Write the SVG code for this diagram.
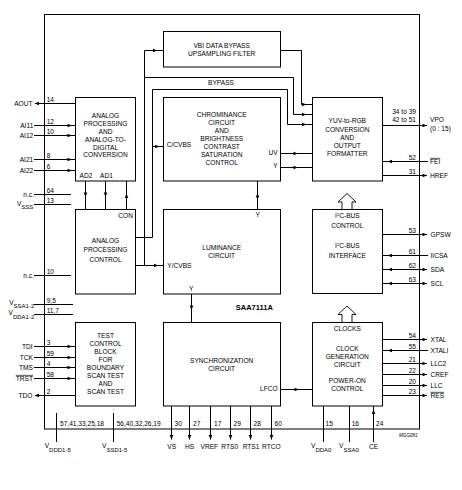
<svg xmlns="http://www.w3.org/2000/svg" xmlns:xlink="http://www.w3.org/1999/xlink" width="462" height="490" viewBox="0 0 462 490">
<style>
.b{fill:#fff;stroke:#000;stroke-width:1}
.w{fill:none;stroke:#000;stroke-width:1}
text{font-family:"Liberation Sans",Arial,sans-serif;font-size:6.6px;fill:#000}
.c{text-anchor:middle}
.e{text-anchor:end}
.s{font-size:6px}
.o{text-decoration:overline}
.bo{font-weight:bold;font-size:7.5px}
.m{font-size:4.6px;font-style:italic}
.blk{fill:#fff;stroke:#000;stroke-width:0.9}
</style>
<defs>
<path id="ah" d="M0,0 L-4.5,-1.8 L-4.5,1.8 Z" fill="#000"/>
</defs>
<rect width="462" height="490" fill="#fff"/>
<g id="chip">
<rect x="44.5" y="14.5" width="375" height="414.5" class="w"/>
<text x="254.3" y="310.3" class="c bo">SAA7111A</text>
<text x="399" y="436.5" class="m">MGG081</text>
</g>
<g id="connectors" class="w">
<path d="M35,103.5H75.5M34,125.5H75.5M34,135.5H75.5M34,159.5H75.5M34,170.5H75.5M34,194.5H71M34,204.5H71M34,275.5H71M34,304.5H73M34,314.5H73M34,346.5H75.5M34,357.5H75.5M34,367.5H75.5M34,378.5H75.5M35,395.5H75.5"/>
<path d="M85.5,181V209.5M105.5,181V209.5M126.5,209.5V181"/>
<path d="M135.5,237.5H152.5V89.5H287.5V124.5H312.5M152.5,146.5H163.5"/>
<path d="M135.5,265.5H163.5M144.5,265.5V50.5H163.5M144.5,77.5H293.5V114.5H312.5"/>
<path d="M280.5,50.5H301.5V104.5H312.5"/>
<path d="M280.5,153.5H312.5M280.5,167.5H312.5M257.5,209.5V181M191.5,294V322.5M280.5,389.5H312.5"/>
<path d="M171.5,406V439.5M189.5,406V439.5M210.5,406V439.5M230.5,406V439.5M250.5,406V439.5M271.5,406V439.5"/>
<path d="M56.5,413V442M113.5,413V442M323.5,406V442M349.5,406V442M373.5,406V442"/>
<path d="M382.5,125.5H427M382.5,161.5H428M382.5,175.5H427M382.5,234.5H427M382.5,255.5H428M382.5,269.5H427M382.5,283.5H427M382.5,339.5H427M382.5,350.5H428M382.5,363.5H427M382.5,374.5H427M382.5,385.5H427M382.5,395.5H427"/>
<g stroke="none">
<use xlink:href="#ah" transform="translate(34.5,103.5) rotate(180)"/>
<use xlink:href="#ah" transform="translate(72,125.5)"/>
<use xlink:href="#ah" transform="translate(72,135.5)"/>
<use xlink:href="#ah" transform="translate(72,159.5)"/>
<use xlink:href="#ah" transform="translate(72,170.5)"/>
<use xlink:href="#ah" transform="translate(72,346.5)"/>
<use xlink:href="#ah" transform="translate(72,357.5)"/>
<use xlink:href="#ah" transform="translate(72,367.5)"/>
<use xlink:href="#ah" transform="translate(72,378.5)"/>
<use xlink:href="#ah" transform="translate(34.5,395.5) rotate(180)"/>
<use xlink:href="#ah" transform="translate(85.5,197) rotate(90)"/>
<use xlink:href="#ah" transform="translate(105.5,197) rotate(90)"/>
<use xlink:href="#ah" transform="translate(126.5,193.5) rotate(-90)"/>
<use xlink:href="#ah" transform="translate(157.5,50.5)"/>
<use xlink:href="#ah" transform="translate(159.5,146.5)"/>
<use xlink:href="#ah" transform="translate(158.5,265.5)"/>
<use xlink:href="#ah" transform="translate(306.5,104.5)"/>
<use xlink:href="#ah" transform="translate(306.5,114.5)"/>
<use xlink:href="#ah" transform="translate(306.5,124.5)"/>
<use xlink:href="#ah" transform="translate(298,153.5)"/>
<use xlink:href="#ah" transform="translate(298,167.5)"/>
<use xlink:href="#ah" transform="translate(257.5,193) rotate(-90)"/>
<use xlink:href="#ah" transform="translate(191.5,310) rotate(90)"/>
<use xlink:href="#ah" transform="translate(299,389.5)"/>
<use xlink:href="#ah" transform="translate(171.5,439.5) rotate(90)"/>
<use xlink:href="#ah" transform="translate(189.5,439.5) rotate(90)"/>
<use xlink:href="#ah" transform="translate(210.5,439.5) rotate(90)"/>
<use xlink:href="#ah" transform="translate(230.5,439.5) rotate(90)"/>
<use xlink:href="#ah" transform="translate(250.5,439.5) rotate(90)"/>
<use xlink:href="#ah" transform="translate(271.5,439.5) rotate(90)"/>
<use xlink:href="#ah" transform="translate(373.5,409.5) rotate(-90)"/>
<use xlink:href="#ah" transform="translate(427,125.5)"/>
<use xlink:href="#ah" transform="translate(387.5,161.5) rotate(180)"/>
<use xlink:href="#ah" transform="translate(427,175.5)"/>
<use xlink:href="#ah" transform="translate(427,234.5)"/>
<use xlink:href="#ah" transform="translate(387.5,255.5) rotate(180)"/>
<use xlink:href="#ah" transform="translate(387.5,269.5) rotate(180)"/>
<use xlink:href="#ah" transform="translate(427,269.5)"/>
<use xlink:href="#ah" transform="translate(387.5,283.5) rotate(180)"/>
<use xlink:href="#ah" transform="translate(427,283.5)"/>
<use xlink:href="#ah" transform="translate(427,339.5)"/>
<use xlink:href="#ah" transform="translate(387.5,350.5) rotate(180)"/>
<use xlink:href="#ah" transform="translate(427,363.5)"/>
<use xlink:href="#ah" transform="translate(427,374.5)"/>
<use xlink:href="#ah" transform="translate(427,385.5)"/>
<use xlink:href="#ah" transform="translate(427,395.5)"/>
</g>
<path class="blk" d="M347,193.5L356,202H352V209.5H342V202H338Z"/>
<path class="blk" d="M347,306L356,314.5H352V322.5H342V314.5H338Z"/>
<text x="221" y="84.7" class="c" stroke="none">BYPASS</text>
</g>
<g id="pins-left">
<text x="32.5" y="105.9" class="e">AOUT</text>
<text x="33.3" y="127.9" class="e">AI11</text>
<text x="33.3" y="137.9" class="e">AI12</text>
<text x="33.3" y="161.9" class="e">AI21</text>
<text x="33.3" y="172.9" class="e">AI22</text>
<text x="34" y="196.9" class="e">n.c.</text>
<text x="33.3" y="205.7" class="e">V<tspan dy="3.5" class="s">SSS</tspan></text>
<text x="34" y="277.9" class="e">n.c.</text>
<text x="34.3" y="304.7" class="e">V<tspan dy="3.5" class="s">SSA1-2</tspan></text>
<text x="34.3" y="315.2" class="e">V<tspan dy="3.5" class="s">DDA1-2</tspan></text>
<text x="32.7" y="348.9" class="e">TDI</text>
<text x="33" y="359.9" class="e">TCK</text>
<text x="33" y="369.9" class="e">TMS</text>
<text x="33" y="380.9" class="e o">TRST</text>
<text x="32.3" y="398" class="e">TDO</text>
<text x="46.7" y="101.5">14</text>
<text x="46.7" y="123.5">12</text>
<text x="46.7" y="133.5">10</text>
<text x="46.7" y="157.5">8</text>
<text x="46.7" y="168.5">6</text>
<text x="46.7" y="192.5">64</text>
<text x="46.7" y="202.5">13</text>
<text x="46.7" y="273.5">10</text>
<text x="46.7" y="302.5">9,5</text>
<text x="46.7" y="312.5">11,7</text>
<text x="46.7" y="344.5">3</text>
<text x="46.7" y="355.5">59</text>
<text x="46.7" y="365.5">4</text>
<text x="46.7" y="376.5">58</text>
<text x="46.7" y="393.5">2</text>
</g>
<g id="pins-bottom">
<text x="60" y="426.1">57,41,33,25,18</text>
<text x="116.7" y="426.1">56,40,32,26,19</text>
<text x="44.7" y="448.4">V<tspan dy="3.3" class="s">DDD1-5</tspan></text>
<text x="102" y="448.4">V<tspan dy="3.3" class="s">SSD1-5</tspan></text>
<text x="174.5" y="426.1">30</text>
<text x="193" y="426.1">27</text>
<text x="214" y="426.1">17</text>
<text x="233.5" y="426.1">29</text>
<text x="253.5" y="426.1">28</text>
<text x="274.5" y="426.1">60</text>
<text x="171.7" y="449" class="c">VS</text>
<text x="189.7" y="449" class="c">HS</text>
<text x="209.3" y="449" class="c">VREF</text>
<text x="229.7" y="449" class="c">RTS0</text>
<text x="251" y="449" class="c">RTS1</text>
<text x="271.3" y="449" class="c">RTCO</text>
<text x="325.5" y="426.1">15</text>
<text x="351.7" y="426.1">16</text>
<text x="376" y="426.1">24</text>
<text x="311" y="448.4">V<tspan dy="3.3" class="s">DDA0</tspan></text>
<text x="339" y="448.4">V<tspan dy="3.3" class="s">SSA0</tspan></text>
<text x="373.5" y="449" class="c">CE</text>
</g>
<g id="pins-right">
<text x="416" y="114.4" class="e">34 to 39</text>
<text x="416" y="122.4" class="e">42 to 51</text>
<text x="416" y="159.5" class="e">52</text>
<text x="416" y="173.5" class="e">31</text>
<text x="416" y="232.5" class="e">53</text>
<text x="416" y="253.5" class="e">61</text>
<text x="416" y="267.5" class="e">62</text>
<text x="416" y="281.5" class="e">63</text>
<text x="416" y="337.5" class="e">54</text>
<text x="416" y="348.5" class="e">55</text>
<text x="416" y="361.5" class="e">21</text>
<text x="416" y="372.5" class="e">22</text>
<text x="416" y="383.5" class="e">20</text>
<text x="416" y="393.5" class="e">23</text>
<text x="430" y="122.4">VPO</text>
<text x="430" y="130.7">(0 : 15)</text>
<text x="430" y="163.9" class="o">FEI</text>
<text x="430" y="177.9">HREF</text>
<text x="430.5" y="236.9">GPSW</text>
<text x="430.5" y="257.9">IICSA</text>
<text x="430.5" y="271.9">SDA</text>
<text x="430.5" y="285.9">SCL</text>
<text x="430.5" y="341.9">XTAL</text>
<text x="430.5" y="352.9">XTALI</text>
<text x="430.5" y="365.9">LLC2</text>
<text x="430.5" y="376.9">CREF</text>
<text x="430.5" y="387.9">LLC</text>
<text x="430.5" y="397.9" class="o">RES</text>
</g>
<g id="analog-adc">
<rect x="75.5" y="97.5" width="60" height="83.5" class="b"/>
<text x="105.5" y="117.7" class="c">ANALOG</text>
<text x="105.5" y="125.7" class="c">PROCESSING</text>
<text x="105.5" y="133.7" class="c">AND</text>
<text x="105.5" y="141.7" class="c">ANALOG-TO-</text>
<text x="105.5" y="149.5" class="c">DIGITAL</text>
<text x="105.5" y="157.3" class="c">CONVERSION</text>
<text x="79.5" y="178">AD2</text>
<text x="100" y="178">AD1</text>
</g>
<g id="analog-control">
<rect x="75.5" y="209.5" width="60" height="84.5" class="b"/>
<text x="133" y="218" class="e">CON</text>
<text x="105.5" y="243" class="c">ANALOG</text>
<text x="105.5" y="252.3" class="c">PROCESSING</text>
<text x="105.5" y="262" class="c">CONTROL</text>
</g>
<g id="test-control">
<rect x="75.5" y="322.5" width="60" height="83.5" class="b"/>
<text x="105.5" y="338.1" class="c">TEST</text>
<text x="105.5" y="346.1" class="c">CONTROL</text>
<text x="105.5" y="354.1" class="c">BLOCK</text>
<text x="105.5" y="362.1" class="c">FOR</text>
<text x="105.5" y="370.1" class="c">BOUNDARY</text>
<text x="105.5" y="378.1" class="c">SCAN TEST</text>
<text x="105.5" y="386.1" class="c">AND</text>
<text x="105.5" y="394.1" class="c">SCAN TEST</text>
</g>
<g id="vbi-filter">
<rect x="163.5" y="31.5" width="117" height="35.5" class="b"/>
<text x="221.7" y="48.4" class="c">VBI DATA BYPASS</text>
<text x="221.7" y="56.4" class="c">UPSAMPLING FILTER</text>
</g>
<g id="chrominance">
<rect x="163.5" y="97.5" width="117" height="83.5" class="b"/>
<text x="221.7" y="116.7" class="c">CHROMINANCE</text>
<text x="221.7" y="124.7" class="c">CIRCUIT</text>
<text x="221.7" y="132.9" class="c">AND</text>
<text x="221.7" y="140.9" class="c">BRIGHTNESS</text>
<text x="221.7" y="148.9" class="c">CONTRAST</text>
<text x="221.7" y="156.9" class="c">SATURATION</text>
<text x="221.7" y="164.9" class="c">CONTROL</text>
<text x="166.7" y="147">C/CVBS</text>
<text x="277.7" y="154.7" class="e">UV</text>
<text x="277.7" y="168" class="e">Y</text>
</g>
<g id="luminance">
<rect x="163.5" y="209.5" width="117" height="84.5" class="b"/>
<text x="257.7" y="217" class="c">Y</text>
<text x="221.7" y="250" class="c">LUMINANCE</text>
<text x="221.7" y="258" class="c">CIRCUIT</text>
<text x="167.3" y="268">Y/CVBS</text>
<text x="191.3" y="290.7" class="c">Y</text>
</g>
<g id="synchronization">
<rect x="163.5" y="322.5" width="117" height="83.5" class="b"/>
<text x="221.7" y="363" class="c">SYNCHRONIZATION</text>
<text x="221.7" y="371" class="c">CIRCUIT</text>
<text x="277.7" y="391.4" class="e">LFCO</text>
</g>
<g id="yuv-rgb">
<rect x="312.5" y="97.5" width="70" height="83.5" class="b"/>
<text x="347.3" y="123.4" class="c">YUV-to-RGB</text>
<text x="347.3" y="131.6" class="c">CONVERSION</text>
<text x="347.3" y="139.7" class="c">AND</text>
<text x="347.3" y="147.7" class="c">OUTPUT</text>
<text x="347.3" y="155.9" class="c">FORMATTER</text>
</g>
<g id="i2c-bus">
<rect x="312.5" y="209.5" width="70" height="84" class="b"/>
<text x="347.3" y="218.4" class="c">I<tspan dy="-2.2" font-size="4.4">2</tspan><tspan dy="2.2">C-BUS</tspan></text>
<text x="347.3" y="227.7" class="c">CONTROL</text>
<text x="347.3" y="247.7" class="c">I<tspan dy="-2.2" font-size="4.4">2</tspan><tspan dy="2.2">C-BUS</tspan></text>
<text x="347.3" y="257.7" class="c">INTERFACE</text>
</g>
<g id="clock-generation">
<rect x="312.5" y="322.5" width="70" height="83.5" class="b"/>
<text x="347.3" y="331.4" class="c">CLOCKS</text>
<text x="347.3" y="350.7" class="c">CLOCK</text>
<text x="347.3" y="358.7" class="c">GENERATION</text>
<text x="347.3" y="366.7" class="c">CIRCUIT</text>
<text x="347.3" y="383.1" class="c">POWER-ON</text>
<text x="347.3" y="391.1" class="c">CONTROL</text>
</g>
</svg>
